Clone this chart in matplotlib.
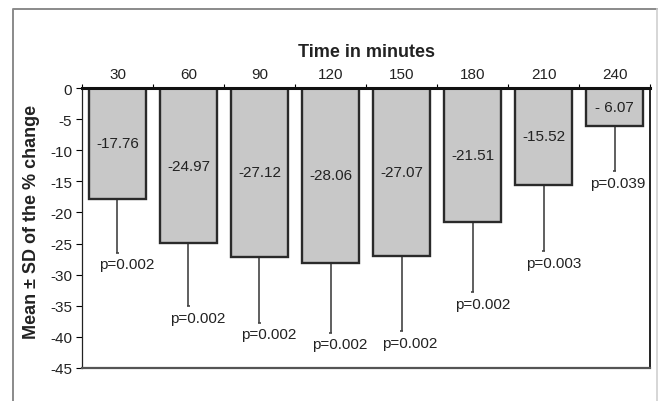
import numpy as np
import matplotlib
matplotlib.use("Agg")
import matplotlib.pyplot as plt
from matplotlib.lines import Line2D

plt.rcParams['font.family'] = ['Liberation Sans', 'DejaVu Sans']

minutes = ["30", "60", "90", "120", "150", "180", "210", "240"]
means = [-17.76, -24.97, -27.12, -28.06, -27.07, -21.51, -15.52, -6.07]
mean_labels = ["-17.76", "-24.97", "-27.12", "-28.06", "-27.07", "-21.51", "-15.52", "- 6.07"]
sds = [8.7, 10.1, 10.6, 11.3, 12.0, 11.3, 10.7, 7.3]
p_values = ["p=0.002", "p=0.002", "p=0.002", "p=0.002", "p=0.002", "p=0.002", "p=0.003", "p=0.039"]
p_dx = [7, 7, 7, 7, 6, 7, 7, 2.5]  # label nudge, points

fig = plt.figure(figsize=(6.59, 4.02), dpi=100)
ax = fig.add_axes([0.1244, 0.0821, 0.862, 0.6965])

x = np.arange(len(minutes))
ax.bar(x, means, width=0.8, color="#c8c8c8", edgecolor="#2a2a2a", linewidth=1.7, zorder=2)
lower = [m - s for m, s in zip(means, sds)]
ax.vlines(x, lower, means, color="#444444", linewidth=1.2, zorder=1)
ax.hlines(lower, x - 0.02, x + 0.02, color="#444444", linewidth=1.2, zorder=1)

txt = "#222222"
fs = 11
for i in range(len(x)):
    ax.text(x[i], means[i] / 2, mean_labels[i], ha="center", va="center",
            fontsize=fs, color=txt, zorder=3)
    ax.annotate(p_values[i], (x[i], lower[i]), xytext=(p_dx[i], -8.3),
                textcoords="offset points", ha="center", va="center",
                fontsize=fs, color=txt)

ax.set_xlim(-0.5, len(x) - 0.5)
ax.set_ylim(-45, 0)
ax.set_yticks(np.arange(-45, 1, 5))
ax.set_yticklabels([str(v) for v in np.arange(-45, 1, 5)], fontsize=fs, color=txt)
ax.tick_params(axis="y", direction="out", length=4, width=0.8, pad=3)

ax.xaxis.tick_top()
ax.set_xticks(x)
ax.set_xticklabels(minutes, fontsize=fs, color=txt)
ax.set_xticks(np.arange(-0.5, len(x), 1.0), minor=True)
ax.tick_params(axis="x", which="major", length=0, pad=5)
ax.tick_params(axis="x", which="minor", direction="out", length=3, width=0.8, top=True, bottom=False)
ax.xaxis.set_label_position("top")
ax.set_xlabel("Time in minutes", fontsize=13, fontweight="bold", color=txt, labelpad=8)

ax.spines["top"].set_linewidth(2.2)
ax.spines["top"].set_color("#111111")
ax.spines["left"].set_linewidth(0.9)
ax.spines["left"].set_color("#222222")
ax.spines["bottom"].set_linewidth(1.6)
ax.spines["bottom"].set_color("#555555")
ax.spines["right"].set_linewidth(1.4)
ax.spines["right"].set_color("#222222")

fig.text(31 / 659, 1 - 222 / 402, "Mean \u00b1 SD of the % change", rotation=90,
         ha="center", va="center", fontsize=13, fontweight="bold", color=txt)

# outer frame
W, H = 659, 402
fig.add_artist(Line2D([13 / W, 13 / W, 657 / W], [0, 1 - 10 / H, 1 - 10 / H],
                      transform=fig.transFigure, color="#8a8a8a", linewidth=1.4))
fig.add_artist(Line2D([657 / W, 657 / W], [1 - 10 / H, 0],
                      transform=fig.transFigure, color="#d0d0d0", linewidth=1.2))

fig.savefig("out.png", dpi=100)
